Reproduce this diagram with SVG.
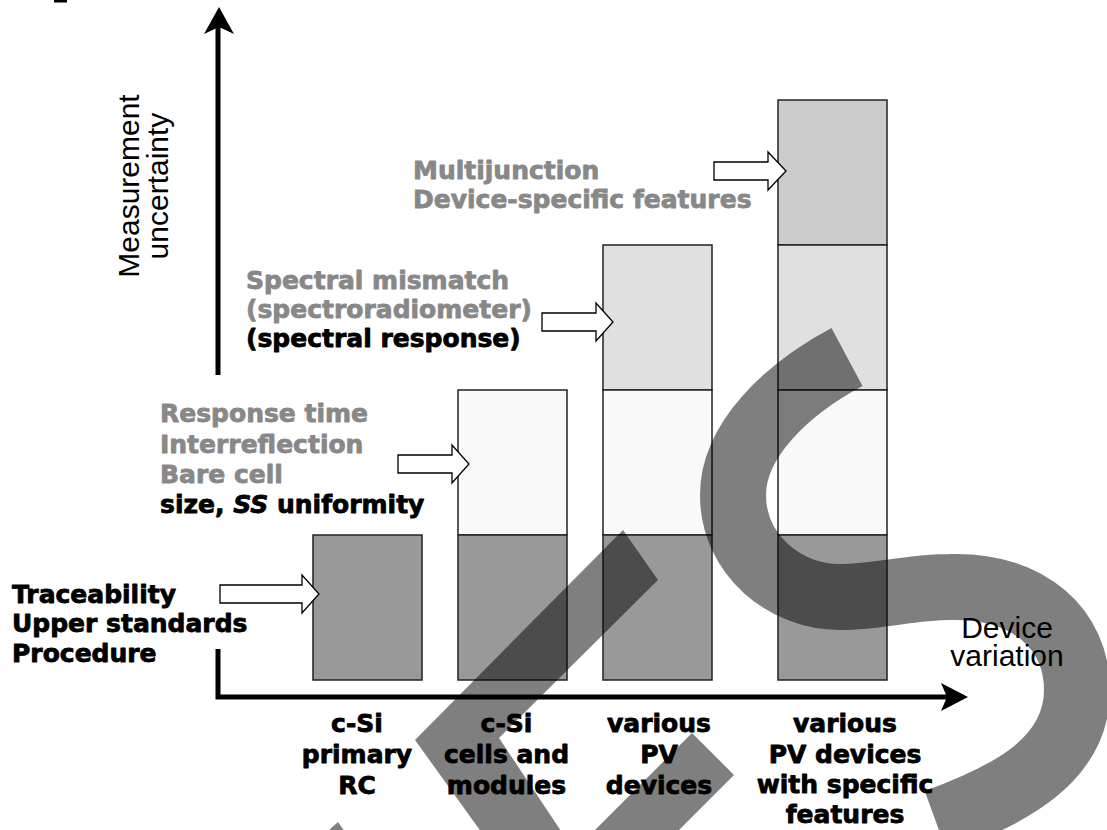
<svg xmlns="http://www.w3.org/2000/svg" width="1107" height="830" viewBox="0 0 1107 830">
<style>
.bold{font-family:"DejaVu Sans",sans-serif;font-weight:bold;font-size:25px;stroke-width:0.8;stroke-linejoin:round;}
.gray{fill:#888888;stroke:#888888;}
.blk{fill:#000000;stroke:#000000;}
.reg{font-family:"Liberation Sans",Arial,sans-serif;font-size:30px;fill:#000;}
.seg{stroke:#222;stroke-width:1.5;}
.barA{fill:#999999;}
.barB{fill:#f9f9f9;}
.barC{fill:#e0e0e0;}
.barD{fill:#cccccc;}
.blockarrow{fill:#fff;stroke:#000;stroke-width:1.3;stroke-linejoin:miter;}
.axis{fill:none;stroke:#000;stroke-width:5;}
.over{fill:#000;fill-opacity:0.5;}
</style>
<rect width="1107" height="830" fill="#fff"/>
<rect x="54" y="0" width="13" height="2.5" fill="#000"/>

<g id="axes">
<path class="axis" d="M218 375 L218 26"/>
<polygon points="219,7 234,34 219,27 204,34" fill="#000"/>
<path class="axis" d="M218 649 L218 697 L948 697" stroke-linejoin="miter"/>
<polygon points="968,697 941,711 947,697 941,683" fill="#000"/>
</g>

<g id="bar1">
<rect class="seg barA" x="313" y="535" width="109" height="145"/>
</g>
<g id="bar2">
<rect class="seg barB" x="458" y="390" width="109" height="145"/>
<rect class="seg barA" x="458" y="535" width="109" height="145"/>
</g>
<g id="bar3">
<rect class="seg barC" x="603" y="245" width="109" height="145"/>
<rect class="seg barB" x="603" y="390" width="109" height="145"/>
<rect class="seg barA" x="603" y="535" width="109" height="145"/>
</g>
<g id="bar4">
<rect class="seg barD" x="778" y="100" width="109" height="145"/>
<rect class="seg barC" x="778" y="245" width="109" height="145"/>
<rect class="seg barB" x="778" y="390" width="109" height="145"/>
<rect class="seg barA" x="778" y="535" width="109" height="145"/>
</g>

<g id="connectors">
<polygon class="blockarrow" points="220,585 302,585 302,575 319,594 302,613 302,603 220,603"/>
<polygon class="blockarrow" points="398,455 452,455 452,445 469,464 452,483 452,473 398,473"/>
<polygon class="blockarrow" points="542,313 596,313 596,303 613,322 596,341 596,331 542,331"/>
<polygon class="blockarrow" points="714,162 768,162 768,152 786,171 768,190 768,180 714,180"/>
</g>

<g id="label-traceability">
<text class="bold blk" x="12" y="603">Traceability</text>
<text class="bold blk" x="12" y="632">Upper standards</text>
<text class="bold blk" x="12" y="662">Procedure</text>
</g>
<g id="label-response">
<text class="bold gray" x="160" y="422">Response time</text>
<text class="bold gray" x="160" y="453">Interreflection</text>
<text class="bold gray" x="160" y="483">Bare cell</text>
<text class="bold blk" x="160" y="513">size, <tspan font-style="italic">SS</tspan> uniformity</text>
</g>
<g id="label-spectral">
<text class="bold gray" x="246" y="289">Spectral mismatch</text>
<text class="bold gray" x="246" y="318">(spectroradiometer)</text>
<text class="bold blk" x="246" y="347">(spectral response)</text>
</g>
<g id="label-multijunction">
<text class="bold gray" x="413" y="179">Multijunction</text>
<text class="bold gray" x="413" y="208">Device-specific features</text>
</g>

<g id="cat1" text-anchor="middle">
<text class="bold blk" x="357" y="732">c-Si</text>
<text class="bold blk" x="357" y="763">primary</text>
<text class="bold blk" x="357" y="794">RC</text>
</g>
<g id="cat2" text-anchor="middle">
<text class="bold blk" x="506.5" y="732">c-Si</text>
<text class="bold blk" x="506.5" y="763">cells and</text>
<text class="bold blk" x="506.5" y="794">modules</text>
</g>
<g id="cat3" text-anchor="middle">
<text class="bold blk" x="659" y="732">various</text>
<text class="bold blk" x="659" y="763">PV</text>
<text class="bold blk" x="659" y="794">devices</text>
</g>
<g id="cat4" text-anchor="middle">
<text class="bold blk" x="845" y="732">various</text>
<text class="bold blk" x="845" y="763">PV devices</text>
<text class="bold blk" x="845" y="793">with specific</text>
<text class="bold blk" x="845" y="823">features</text>
</g>

<g id="axis-label-y">
<text class="reg" text-anchor="middle" transform="translate(139,186) rotate(-90)"><tspan x="0" y="0">Measurement</tspan><tspan x="0" y="29">uncertainty</tspan></text>
</g>
<g id="axis-label-x">
<text class="reg" text-anchor="middle" x="1007" y="638">Device</text>
<text class="reg" text-anchor="middle" x="1007" y="666">variation</text>
</g>

<g id="overlay">
<path d="M847 357 C787 389 733 440 733 495 C733 555 785 597 840 597 C880 597 910 587 950 587 C1030 585 1077 630 1077 690 C1077 760 1010 795 936 822" fill="none" stroke="#000" stroke-opacity="0.5" stroke-width="66"/>
<polygon class="over" points="623,530 658,580 499,738 567,840 487,840 415,740"/>
<polygon class="over" points="692,733 734,775 669,840 585,840"/>
<polygon class="over" points="338,822 345,832 342,840 318,840"/>
</g>
</svg>
